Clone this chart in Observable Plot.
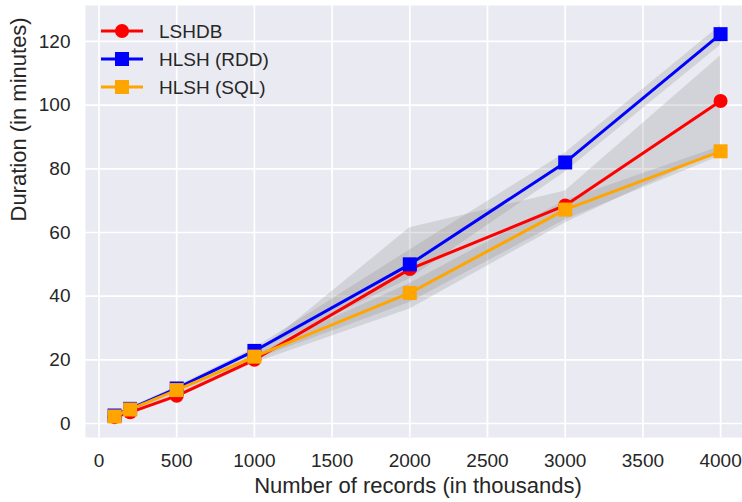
<!DOCTYPE html>
<html>
<head>
<meta charset="utf-8">
<script src="https://cdn.jsdelivr.net/npm/d3@7"></script>
<script src="https://cdn.jsdelivr.net/npm/@observablehq/plot@0.6"></script>
<style>
  html, body { margin: 0; padding: 0; background: #ffffff; }
  #chart { width: 742px; height: 502px; }
</style>
</head>
<body>
<div id="chart"></div>
<script>
// ---- data ----
const records = [100, 200, 500, 1000, 2000, 3000, 4000];

const lshdb   = [2.0, 3.5, 8.7, 20.0, 48.5, 68.5, 101.3];
const lshdbLo = [1.5, 3.0, 8.0, 19.0, 36.0, 63.0, 86.0];
const lshdbHi = [2.5, 4.2, 9.5, 21.5, 61.5, 73.0, 115.5];

const rdd   = [2.5, 4.6, 11.0, 22.8, 50.0, 82.0, 122.3];
const rddLo = [2.0, 4.0, 10.4, 22.0, 45.5, 79.0, 118.8];
const rddHi = [3.0, 5.1, 11.6, 23.6, 54.5, 85.0, 125.0];

const sql   = [2.2, 4.4, 10.5, 21.0, 41.0, 67.2, 85.5];
const sqlLo = [1.8, 3.9, 9.9, 20.0, 38.0, 64.0, 84.0];
const sqlHi = [2.6, 4.9, 11.1, 22.0, 44.0, 70.0, 87.0];

const seriesNames = ["LSHDB", "HLSH (RDD)", "HLSH (SQL)"];
const seriesColors = ["#ff0000", "#0000ff", "#ffa500"];
const seriesSymbols = ["circle", "square", "square"];

const xTicks = [0, 500, 1000, 1500, 2000, 2500, 3000, 3500, 4000];
const yTicks = [0, 20, 40, 60, 80, 100, 120];

const xLabel = "Number of records (in thousands)";
const yLabel = "Duration (in minutes)";

// ---- build tables ----
const seriesVals = [lshdb, rdd, sql];
const seriesLo = [lshdbLo, rddLo, sqlLo];
const seriesHi = [lshdbHi, rddHi, sqlHi];
const tables = seriesVals.map((vals, s) =>
  records.map((x, i) => ({x, y: vals[i], lo: seriesLo[s][i], hi: seriesHi[s][i], name: seriesNames[s]}))
);

const font = "'Liberation Sans', Arial, Helvetica, sans-serif";

const marks = [
  Plot.frame({fill: "#EAEAF2", stroke: null}),
  Plot.gridX(xTicks, {stroke: "#ffffff", strokeOpacity: 1, strokeWidth: 1.7}),
  Plot.gridY(yTicks, {stroke: "#ffffff", strokeOpacity: 1, strokeWidth: 1.7}),
  Plot.axisX(xTicks, {tickSize: 0, tickPadding: 16, fontSize: 19, label: null, tickFormat: d => String(d)}),
  Plot.axisY(yTicks, {tickSize: 0, tickPadding: 15, fontSize: 19, label: null, tickFormat: d => String(d)}),
];
tables.forEach(t => {
  marks.push(Plot.areaY(t, {x: "x", y1: "lo", y2: "hi", fill: "#808080", fillOpacity: 0.22}));
});
tables.forEach((t, s) => {
  marks.push(Plot.line(t, {x: "x", y: "y", stroke: seriesColors[s], strokeWidth: 3}));
  marks.push(Plot.dot(t, {x: "x", y: "y", fill: seriesColors[s], stroke: null,
    symbol: seriesSymbols[s], r: seriesSymbols[s] === "circle" ? 7 : 7.9}));
});
marks.push(Plot.text([xLabel], {frameAnchor: "bottom", dy: 55, dx: 4, text: d => d, fontSize: 22, fill: "#262626"}));
marks.push(Plot.text([yLabel], {frameAnchor: "left", dx: -67, rotate: -90, text: d => d, fontSize: 22, fill: "#262626"}));

const chart = Plot.plot({
  width: 742,
  height: 502,
  marginLeft: 85,
  marginRight: 0,
  marginTop: 5,
  marginBottom: 65,
  style: {fontFamily: font, color: "#262626", background: "transparent", overflow: "visible"},
  x: {domain: [-87, 4141]},
  y: {domain: [-4.4, 131.3]},
  marks
});

// ---- legend (inside plot, top-left) ----
const svg = d3.select(chart);
const lg = svg.append("g").attr("font-family", font).attr("font-size", 19).attr("text-anchor", "start");
seriesNames.forEach((name, i) => {
  const cy = 31 + i * 28;
  const g = lg.append("g");
  g.append("line").attr("x1", 101).attr("x2", 143).attr("y1", cy).attr("y2", cy)
    .attr("stroke", seriesColors[i]).attr("stroke-width", 3);
  if (seriesSymbols[i] === "circle") {
    g.append("circle").attr("cx", 122).attr("cy", cy).attr("r", 7).attr("fill", seriesColors[i]);
  } else {
    g.append("rect").attr("x", 115).attr("y", cy - 7).attr("width", 14).attr("height", 14).attr("fill", seriesColors[i]);
  }
  g.append("text").attr("x", 159).attr("y", cy).attr("dy", "0.35em").attr("text-anchor", "start")
    .attr("fill", "#262626").text(name);
});

document.getElementById("chart").appendChild(chart);
</script>
</body>
</html>
